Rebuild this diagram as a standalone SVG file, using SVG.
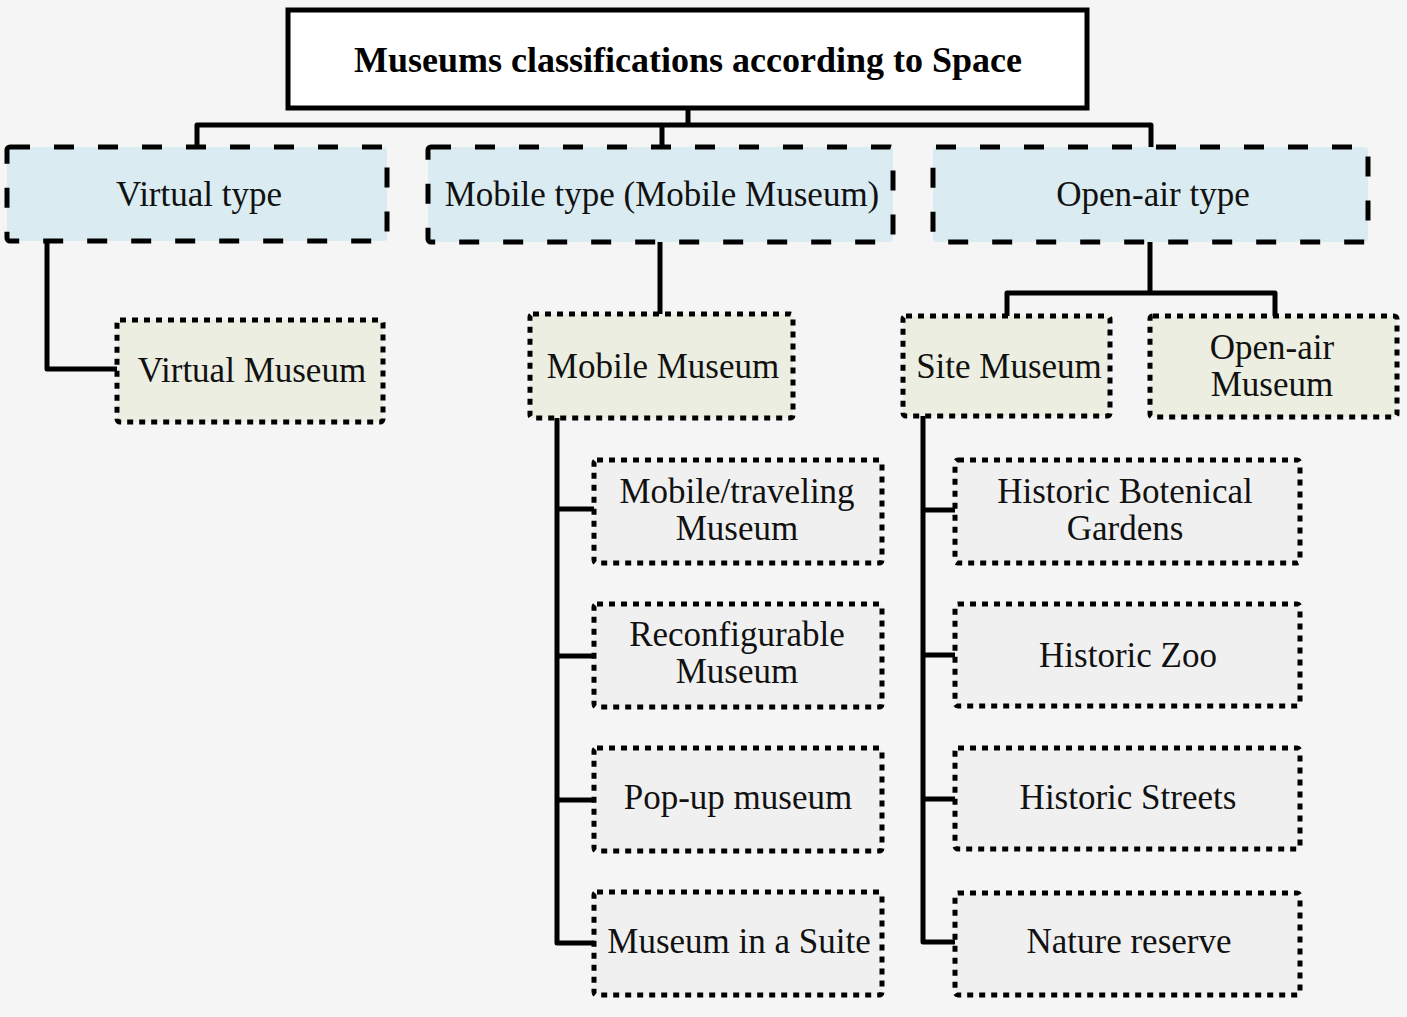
<svg xmlns="http://www.w3.org/2000/svg" width="1407" height="1017" viewBox="0 0 1407 1017">
  <style>
    .bg { fill: #f5f5f5; }
    .title { fill: #ffffff; stroke: #000; stroke-width: 5; }
    .type { fill: #daecf2; stroke: #000; stroke-width: 5; stroke-dasharray: 20 24; }
    .museum { fill: #ebeee0; stroke: #000; stroke-width: 5; stroke-dasharray: 6 6; }
    .sub { fill: #f0f0f0; stroke: #000; stroke-width: 5; stroke-dasharray: 6 6; }
    .link { fill: none; stroke: #000; stroke-width: 5; stroke-linejoin: round; }
    text { font-family: "Liberation Serif", "Times New Roman", serif; font-size: 35px; fill: #111; text-anchor: middle; }
    .ttl { font-size: 36px; font-weight: bold; fill: #000; }
  </style>

  <rect class="bg" x="0" y="0" width="1407" height="1017"/>

  <!-- tree connectors -->
  <g id="connectors">
    <path class="link" d="M688 108 V125 M197 147 V125 H1151 V147 M662 125 V147"/>
    <path class="link" d="M47 241 V369 H117"/>
    <path class="link" d="M660 242 V314"/>
    <path class="link" d="M1150 242 V293 M1007 316 V293 H1275 V316"/>
    <path class="link" d="M557 418 V943 H594 M557 509 H594 M557 656 H594 M557 800 H594"/>
    <path class="link" d="M923 416 V942 H955 M923 510 H955 M923 655 H955 M923 799 H955"/>
  </g>

  <g id="root">
    <rect class="title" x="288" y="10" width="799" height="98"/>
    <text class="ttl" x="688" y="72">Museums classifications according to Space</text>
  </g>

  <g id="virtual-type">
    <rect class="type" x="7" y="147" width="380" height="94" rx="3"/>
    <text x="199" y="206">Virtual type</text>
  </g>
  <g id="mobile-type">
    <rect class="type" x="428" y="147" width="465" height="95" rx="3"/>
    <text x="662" y="206">Mobile type (Mobile Museum)</text>
  </g>
  <g id="open-air-type">
    <rect class="type" x="933" y="147" width="435" height="95" rx="3"/>
    <text x="1153" y="206">Open-air type</text>
  </g>

  <g id="virtual-museum">
    <rect class="museum" x="117" y="320" width="266" height="102" rx="3"/>
    <text x="252" y="382">Virtual Museum</text>
  </g>
  <g id="mobile-museum">
    <rect class="museum" x="530" y="314" width="263" height="104" rx="3"/>
    <text x="663" y="378">Mobile Museum</text>
  </g>
  <g id="site-museum">
    <rect class="museum" x="903" y="316" width="207" height="100" rx="3"/>
    <text x="1009" y="378">Site Museum</text>
  </g>
  <g id="open-air-museum">
    <rect class="museum" x="1150" y="316" width="247" height="101" rx="3"/>
    <text x="1272" y="359">Open-air</text>
    <text x="1272" y="396">Museum</text>
  </g>

  <g id="mobile-traveling">
    <rect class="sub" x="594" y="460" width="288" height="103" rx="3"/>
    <text x="737" y="503">Mobile/traveling</text>
    <text x="737" y="540">Museum</text>
  </g>
  <g id="reconfigurable">
    <rect class="sub" x="594" y="604" width="288" height="103" rx="3"/>
    <text x="737" y="646">Reconfigurable</text>
    <text x="737" y="683">Museum</text>
  </g>
  <g id="pop-up">
    <rect class="sub" x="594" y="748" width="288" height="103" rx="3"/>
    <text x="738" y="809">Pop-up museum</text>
  </g>
  <g id="suite">
    <rect class="sub" x="594" y="892" width="288" height="103" rx="3"/>
    <text x="739" y="953">Museum in a Suite</text>
  </g>

  <g id="botanical">
    <rect class="sub" x="955" y="460" width="345" height="103" rx="3"/>
    <text x="1125" y="503">Historic Botenical</text>
    <text x="1125" y="540">Gardens</text>
  </g>
  <g id="zoo">
    <rect class="sub" x="955" y="604" width="345" height="102" rx="3"/>
    <text x="1128" y="667">Historic Zoo</text>
  </g>
  <g id="streets">
    <rect class="sub" x="955" y="748" width="345" height="101" rx="3"/>
    <text x="1128" y="809">Historic Streets</text>
  </g>
  <g id="nature">
    <rect class="sub" x="955" y="893" width="345" height="102" rx="3"/>
    <text x="1129" y="953">Nature reserve</text>
  </g>
</svg>
